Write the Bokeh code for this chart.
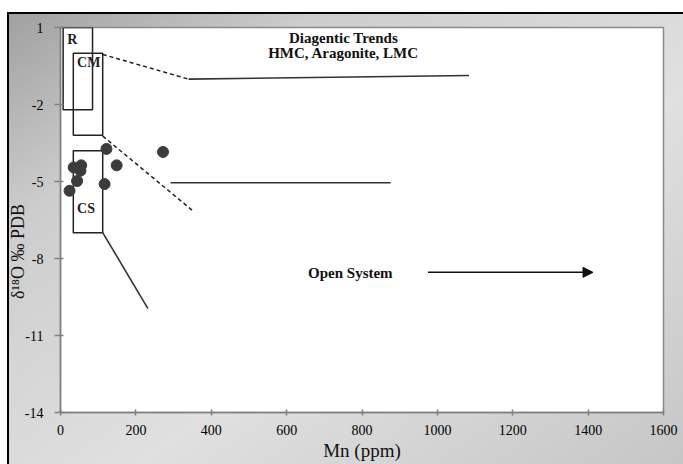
from bokeh.plotting import figure
from bokeh.models import Range1d, FixedTicker, Arrow, NormalHead, ColumnDataSource
from bokeh.core.properties import value
from bokeh.embed import file_html
from bokeh.resources import INLINE

# ---- data ----
mn_ppm = [122, 272, 35, 55, 53, 149, 44, 117, 24]
d18o = [-3.73, -3.85, -4.45, -4.37, -4.58, -4.37, -4.98, -5.10, -5.36]

box_names = ["R", "CM", "CS"]
box_left = [7, 34, 34]
box_right = [85, 112, 112]
box_bottom = [-2.2, -3.2, -7.0]
box_top = [1.0, 0.0, -3.8]
box_label_x = [18, 44, 44]
box_label_y = [0.55, -0.37, -6.04]

dash_xs = [[112, 340], [112, 351]]
dash_ys = [[-0.05, -1.01], [-3.23, -6.14]]
solid_xs = [[340, 1084], [292, 876], [112, 232]]
solid_ys = [[-1.01, -0.87], [-5.05, -5.05], [-6.99, -9.95]]

arrow_x = [975, 1413]
arrow_y = [-8.54, -8.54]

note_text = ["Diagentic Trends", "HMC, Aragonite, LMC", "Open System"]
note_x = [751, 751, 769]
note_y = [0.58, -0.01, -8.55]

x_ticks = [0, 200, 400, 600, 800, 1000, 1200, 1400, 1600]
y_ticks = [-14, -11, -8, -5, -2, 1]

SERIF = "Liberation Serif"

p = figure(width=683, height=464, x_range=Range1d(0, 1600), y_range=Range1d(-14, 1),
           output_backend="svg", toolbar_location=None, title=None,
           min_border_left=60, min_border_right=20, min_border_top=27, min_border_bottom=52)
p.border_fill_color = None
p.background_fill_color = "white"
p.outline_line_color = "#8a8a8a"
p.outline_line_width = 1.5
p.grid.visible = False
p.styles = {
    "background": "linear-gradient(#000,#000) 7px 12px / 100% 2px no-repeat, "
                  "linear-gradient(#000,#000) 7px 12px / 2px 100% no-repeat, "
                  "linear-gradient(#fff,#fff) 0 0 / 100% 12px no-repeat, "
                  "linear-gradient(#fff,#fff) 0 0 / 7px 100% no-repeat, "
                  "linear-gradient(to bottom right, #9c9c9c 0%, #cdcdcd 25%, #e0e0e0 60%, #c6c6c6 100%)"
}

# axes
for ax in (p.xaxis[0], p.yaxis[0]):
    ax.axis_line_color = "#808080"
    ax.axis_line_width = 1.5
    ax.major_tick_line_color = "#808080"
    ax.major_tick_line_width = 1.5
    ax.minor_tick_line_color = None
    ax.major_label_text_font = SERIF
    ax.major_label_text_font_size = "14px"
    ax.major_label_text_color = "#000000"
    ax.axis_label_text_font = SERIF
    ax.axis_label_text_font_style = "normal"
    ax.axis_label_text_color = "#111111"

p.xaxis.ticker = FixedTicker(ticks=x_ticks)
p.yaxis.ticker = FixedTicker(ticks=y_ticks)
p.xaxis.major_label_overrides = {t: str(t) for t in x_ticks}
p.yaxis.major_label_overrides = {t: str(t) for t in y_ticks}
p.xaxis.major_tick_in = 3
p.xaxis.major_tick_out = 3
p.xaxis.major_label_standoff = 9
p.xaxis.axis_label = "Mn (ppm)"
p.xaxis.axis_label_text_font_size = "19px"
p.xaxis.axis_label_standoff = 2

p.yaxis.major_tick_in = 3
p.yaxis.major_tick_out = 6
p.yaxis.major_label_standoff = 11
p.yaxis.axis_label = "δ¹⁸O ‰ PDB" + "\u00a0" * 14
p.yaxis.axis_label_text_font_size = "18px"
p.yaxis.axis_label_standoff = -6

# boxes
box_src = ColumnDataSource(dict(left=box_left, right=box_right, bottom=box_bottom, top=box_top))
p.quad(left="left", right="right", bottom="bottom", top="top", source=box_src,
       fill_color=None, line_color="#222222", line_width=1.5)
p.text(x=box_label_x, y=box_label_y, text=box_names, text_font=value(SERIF),
       text_font_style="bold", text_font_size="14px", text_align="left",
       text_baseline="middle", text_color="#222222")

# trend lines
p.multi_line(xs=dash_xs, ys=dash_ys, line_color="#222222", line_width=1.5, line_dash="4 3")
p.multi_line(xs=solid_xs, ys=solid_ys, line_color="#333333", line_width=1.6)

# points
p.scatter(mn_ppm, d18o, size=11, fill_color="#3c3c3c", line_color="#3c3c3c")

# arrow
p.add_layout(Arrow(end=NormalHead(size=10, fill_color="#111111", line_color="#111111"),
                   x_start=arrow_x[0], y_start=arrow_y[0], x_end=arrow_x[1], y_end=arrow_y[1],
                   line_color="#111111", line_width=1.5))

# notes
p.text(x=note_x, y=note_y, text=note_text, text_font=value(SERIF), text_font_style="bold",
       text_font_size="15px", text_align="center", text_baseline="middle", text_color="#111111")

open("out.html", "w").write(file_html(p, INLINE))
